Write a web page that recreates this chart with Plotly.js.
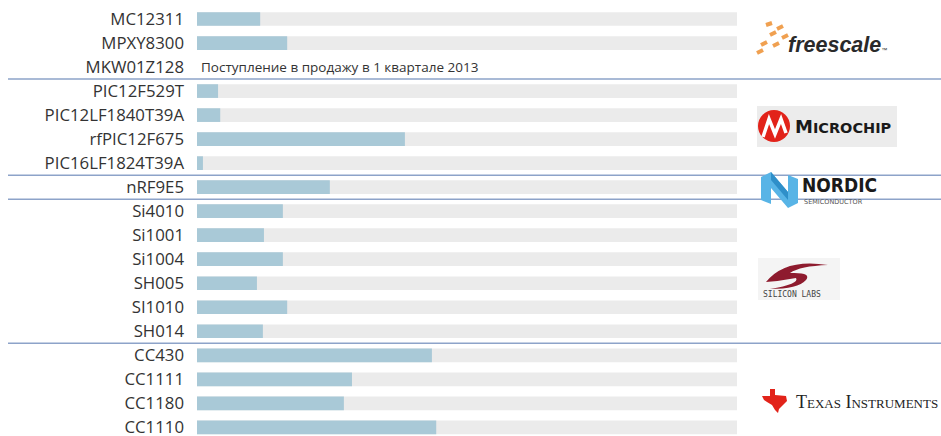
<!DOCTYPE html>
<html>
<head>
<meta charset="utf-8">
<script src="https://cdn.plot.ly/plotly-3.0.1.min.js"></script>
<style>html,body{margin:0;padding:0;background:#fff;}#chart{width:941px;height:436px;}</style>
</head>
<body>
<div id="chart"></div>
<script>
// ---- data ----
const categories = ["MC12311","MPXY8300","MKW01Z128","PIC12F529T","PIC12LF1840T39A","rfPIC12F675","PIC16LF1824T39A","nRF9E5","Si4010","Si1001","Si1004","SH005","SI1010","SH014","CC430","CC1111","CC1180","CC1110"];
const values = [11.7,16.7,null,3.9,4.3,38.5,1.1,24.6,15.9,12.4,15.9,11.1,16.7,12.2,43.5,28.7,27.2,44.3];
const scaleMax = [100,100,null,100,100,100,100,100,100,100,100,100,100,100,100,100,100,100];
const groupBreaks = [2.5, 6.5, 7.5, 13.5]; // separators between vendor groups
const noteCategory = "MKW01Z128";
const noteText = "Поступление в продажу в 1 квартале 2013";

// ---- geometry helpers for decorative logos (pixel -> paper) ----
const L = 197, R = 204, T = 7, B = 0, W = 941, H = 436;
const pw = W - L - R, ph = H - T - B;
const px = x => (x - L) / pw;
const py = y => 1 - (y - T) / ph;
const poly = pts => 'M ' + pts.map(p => px(p[0]) + ' ' + py(p[1])).join(' L ') + ' Z';

const bg = {type:'bar', orientation:'h', y:categories, x:scaleMax, marker:{color:'#ebebeb'}, hoverinfo:'skip', showlegend:false};
const fg = {type:'bar', orientation:'h', y:categories, x:values, marker:{color:'#a9c9d7'}, showlegend:false};

const shapes = groupBreaks.map(b => ({type:'line', xref:'paper', yref:'y', x0:px(8), x1:px(941), y0:b, y1:b, line:{color:'#8da3c9', width:1.5}, layer:'above'}));

// freescale icon dashes
const dash = (x0,y0,x1,y1)=>({type:'line', xref:'paper', yref:'paper', x0:px(x0), y0:py(y0), x1:px(x1), y1:py(y1), line:{color:'#f0a050', width:4}});
shapes.push(dash(766,25,772,23), dash(777,29,783,26), dash(770,35,776,32), dash(782,38,788,35), dash(761,45,767,42), dash(773,46,779,43), dash(757,53,763,50));
// microchip box + circle
shapes.push({type:'rect', xref:'paper', yref:'paper', x0:px(757), x1:px(897), y0:py(106), y1:py(147), fillcolor:'#ececec', line:{width:0}, layer:'below'});
shapes.push({type:'circle', xref:'paper', yref:'paper', x0:px(758), x1:px(790), y0:py(110), y1:py(142), fillcolor:'#e2231a', line:{width:0}});
shapes.push({type:'path', xref:'paper', yref:'paper', path:`M ${px(763)} ${py(137)} L ${px(769)} ${py(119)} L ${px(775)} ${py(134)} L ${px(781)} ${py(119)} L ${px(786)} ${py(133)}`, line:{color:'#ffffff', width:3.5}});
// nordic N
shapes.push({type:'path', xref:'paper', yref:'paper', path:poly([[761,177],[771,172],[788,192],[788,175],[798,179],[798,203],[788,208],[771,188],[771,204],[761,200]]), fillcolor:'#58b4e6', line:{width:0}});
shapes.push({type:'path', xref:'paper', yref:'paper', path:poly([[771,172],[788,192],[788,200],[771,180]]), fillcolor:'#2f8fc9', line:{width:0}});
// silicon labs swoosh
shapes.push({type:'rect', xref:'paper', yref:'paper', x0:px(758), x1:px(840), y0:py(258), y1:py(300), fillcolor:'#f4f4f4', line:{width:0}, layer:'below'});
shapes.push({type:'path', xref:'paper', yref:'paper', path:`M ${px(766)} ${py(282)} Q ${px(785)} ${py(258)} ${px(828)} ${py(265)} Q ${px(800)} ${py(266)} ${px(790)} ${py(273)} Q ${px(812)} ${py(272)} ${px(806)} ${py(280)} Q ${px(798)} ${py(289)} ${px(770)} ${py(289)} Q ${px(800)} ${py(284)} ${px(796)} ${py(278)} Q ${px(780)} ${py(281)} ${px(766)} ${py(282)} Z`, fillcolor:'#8e1b2e', line:{width:0}});
// TI icon (state outline)
shapes.push({type:'path', xref:'paper', yref:'paper', path:poly([[770,389],[775,389],[775,395],[786,396],[787,401],[783,405],[779,409],[778,413],[775,410],[772,405],[767,402],[764,400],[762,396],[770,396]]), fillcolor:'#e2231a', line:{width:0}});

const annotations = [
  {xref:'x', yref:'y', x:0, y:noteCategory, text:noteText, showarrow:false, xanchor:'left', xshift:2, font:{family:'Open Sans', size:13.5, color:'#333'}},
  {xref:'paper', yref:'paper', x:px(786), y:py(45), text:'<b><i>freescale</i></b><span style="font-size:6px">™</span>', showarrow:false, xanchor:'left', yanchor:'middle', font:{family:'Liberation Sans', size:21.5, color:'#2a2a2a'}},
  {xref:'paper', yref:'paper', x:px(793), y:py(126), text:'<b>M<span style="font-size:14.5px">ICROCHIP</span></b>', showarrow:false, xanchor:'left', yanchor:'middle', font:{family:'DejaVu Sans', size:18, color:'#1a1a1a'}},
  {xref:'paper', yref:'paper', x:px(801), y:py(197), text:'<b>NORDIC</b>', showarrow:false, xanchor:'left', yanchor:'bottom', borderpad:0, font:{family:'DejaVu Sans Condensed', size:19, color:'#1a1a1a'}},
  {xref:'paper', yref:'paper', x:px(803), y:py(197), text:'SEMICONDUCTOR', showarrow:false, xanchor:'left', yanchor:'top', borderpad:0, font:{family:'DejaVu Sans', size:6.5, color:'#555'}},
  {xref:'paper', yref:'paper', x:px(761), y:py(294), text:'SILICON LABS', showarrow:false, xanchor:'left', yanchor:'middle', font:{family:'DejaVu Sans Mono', size:8, color:'#444'}},
  {xref:'paper', yref:'paper', x:px(794), y:py(402), text:'T<span style="font-size:13px">EXAS</span> I<span style="font-size:13px">NSTRUMENTS</span>', showarrow:false, xanchor:'left', yanchor:'middle', font:{family:'Liberation Serif', size:18, color:'#222'}}
];

const layout = {
  width:W, height:H,
  margin:{l:L, r:R, t:T, b:B, pad:0},
  paper_bgcolor:'#fff', plot_bgcolor:'#fff',
  barmode:'overlay', bargap:0.43,
  xaxis:{range:[0,100], showgrid:false, zeroline:false, showticklabels:false, ticks:'', fixedrange:true},
  yaxis:{type:'category', categoryorder:'array', categoryarray:categories, range:[17.36,-0.5], showgrid:false, zeroline:false, ticks:'', ticklabelstandoff:12, tickfont:{family:'Open Sans', size:16.8, color:'#333'}, fixedrange:true},
  shapes:shapes, annotations:annotations, showlegend:false
};
Plotly.newPlot('chart', [bg, fg], layout, {displayModeBar:false, staticPlot:true});
</script>
</body>
</html>
